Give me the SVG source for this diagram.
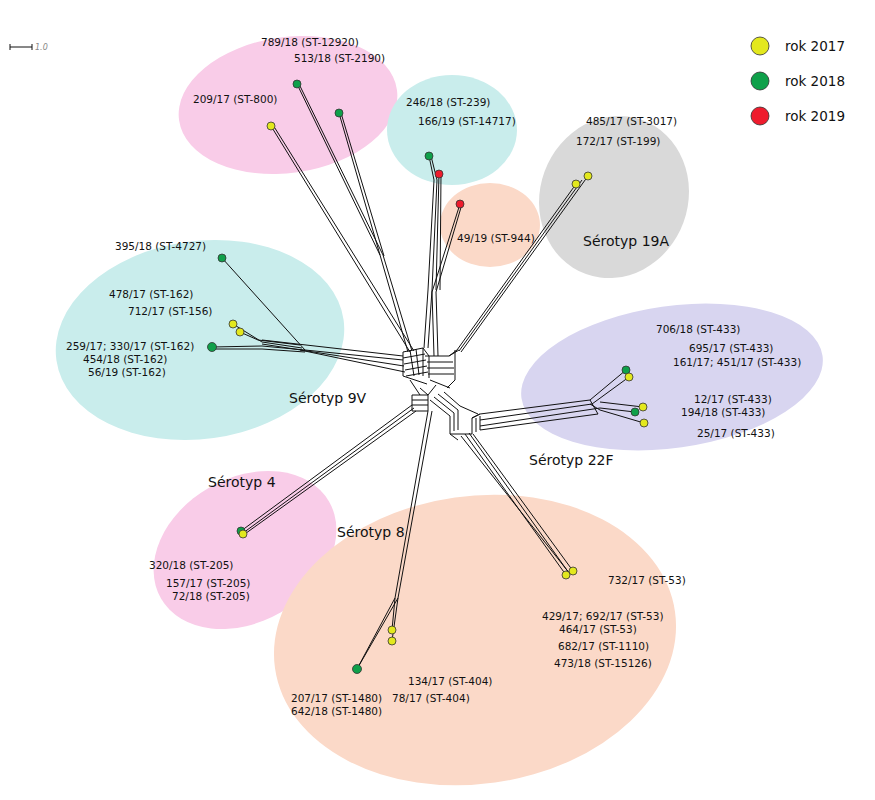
<svg xmlns="http://www.w3.org/2000/svg" width="875" height="800" viewBox="0 0 875 800">
<style>
.t{font-family:"DejaVu Sans",sans-serif;font-size:10.5px;fill:#111}
.s{font-family:"DejaVu Sans",sans-serif;font-size:14px;fill:#111}
.l{font-family:"DejaVu Sans",sans-serif;font-size:13.5px;fill:#111}
.e{stroke:#111;stroke-width:1;fill:none}
.y{fill:#e3e81e;stroke:#333;stroke-width:.8}
.g{fill:#0fa04a;stroke:#333;stroke-width:.8}
.r{fill:#ee1c2d;stroke:#333;stroke-width:.8}
</style>
<rect width="875" height="800" fill="#fff"/>
<g id="regions">
<ellipse cx="288" cy="105" rx="110" ry="68" transform="rotate(-8 288 105)" fill="#f9cce8"/>
<ellipse cx="452" cy="130" rx="65" ry="55" fill="#c9edec"/>
<ellipse cx="614" cy="197" rx="74" ry="82" transform="rotate(20 614 197)" fill="#d9d9d9"/>
<ellipse cx="490" cy="225" rx="50" ry="42" fill="#fbd9c8"/>
<ellipse cx="200" cy="340" rx="145" ry="99" transform="rotate(-8 200 340)" fill="#c9edec"/>
<ellipse cx="672" cy="377" rx="152" ry="71" transform="rotate(-8 672 377)" fill="#d8d5f0"/>
<ellipse cx="245" cy="550" rx="97" ry="72" transform="rotate(-30 245 550)" fill="#f9cce8"/>
<ellipse cx="475" cy="640" rx="202" ry="144" transform="rotate(-8 475 640)" fill="#fbd9c8"/>
</g>
<g id="connectors" class="e">
<path d="M10 47h22M10 44v6M32 44v6"/>
<!-- center web -->
<path d="M403 352 l20 -4 6 8 v22 M403 358 l22 -4 M404 364 l22 -4 M405 370 l22 -4 M406 376 l22 -4 M410 350 l4 26 M416 349 l3 26 M423 348 v28 M403 352 v24 l24 8"/>
<path d="M425 356 h24 l10 -6 M427 362 h26 M427 368 h27 M428 374 h26 M449 356 l8 -6 M455 350 v30 l-8 8 M430 380 l20 8"/>
<path d="M412 395 h16 v16 h-16 z M412 400 h16 M412 405 h16 M420 388 l8 7 M410 380 l10 15 M428 395 l8 -10"/>
<path d="M430 400 l20 16 M434 397 l20 16 M438 394 l20 16 M444 392 l16 14 M450 416 v18 h22 M454 413 v18 M458 410 v20 M472 434 v-16 l8 -4 M476 432 v-14 M480 430 v-14 M472 418 l8 -4 M450 434 l8 6 M460 406 l18 8"/>
<!-- top pink -->
<path d="M271 126 L410 352 M273 125 L414 351"/>
<path d="M297 84 L380 255 L408 352 M299 84 L383 255 L412 351"/>
<path d="M339 113 L380 255 M341 113 L384 256"/>
<!-- top cyan -->
<path d="M429 156 L434 180 L428 290 L424 348 M431 156 L437 180 L432 290 L428 348"/>
<path d="M439 174 L436 290 M441 174 L440 290"/>
<path d="M460 204 L432 292 L434 356 M462 204 L436 292 L438 356"/>
<!-- 19A -->
<path d="M576 184 L457 350 M588 176 L461 352 M582 180 L459 351"/>
<!-- 9V -->
<path d="M222 258 L305 350 L403 360"/>
<path d="M212 347 L262 346 L305 350 M212 349 L262 349 L305 352 M233 324 L262 342 L302 348 M240 332 L258 340 L300 345 M262 340 L403 356 M262 344 L404 366 M300 350 L405 372"/>
<!-- 22F -->
<path d="M626 370 L590 400 L480 414 M629 377 L592 404 L480 420 M643 407 L600 402 M635 412 L600 408 L480 426 M644 423 L600 410 L590 404 M590 400 L598 414 L480 430"/>
<!-- serotyp 4 -->
<path d="M241 531 L412 405 M243 533 L414 408 M242 536 L416 411"/>
<!-- serotyp 8 -->
<path d="M566 575 L465 434 M569 573 L469 433 M573 571 L473 434 M570 574 L461 436"/>
<path d="M357 669 L395 598 L392 630 M357 669 L398 598 L392 641 M395 598 L428 411 M398 598 L432 411"/>
</g>
<g id="dots">
<circle class="y" cx="271" cy="126" r="4"/><circle class="g" cx="297" cy="84" r="4"/><circle class="g" cx="339" cy="113" r="4"/>
<circle class="g" cx="429" cy="156" r="4"/><circle class="r" cx="439" cy="174" r="4"/><circle class="r" cx="460" cy="204" r="4"/>
<circle class="y" cx="576" cy="184" r="4"/><circle class="y" cx="588" cy="176" r="4"/>
<circle class="g" cx="222" cy="258" r="4"/><circle class="y" cx="233" cy="324" r="4"/><circle class="y" cx="240" cy="332" r="4"/><circle class="g" cx="212" cy="347" r="4.5"/>
<circle class="g" cx="626" cy="370" r="4"/><circle class="y" cx="629" cy="377" r="4"/><circle class="y" cx="643" cy="407" r="4"/><circle class="g" cx="635" cy="412" r="4"/><circle class="y" cx="644" cy="423" r="4"/>
<circle class="g" cx="241" cy="531" r="4"/><circle class="y" cx="243" cy="534" r="4"/>
<circle class="y" cx="566" cy="575" r="4"/><circle class="y" cx="573" cy="571" r="4"/>
<circle class="y" cx="392" cy="630" r="4"/><circle class="y" cx="392" cy="641" r="4"/><circle class="g" cx="357" cy="669" r="4.5"/>
</g>
<g id="legend">
<circle class="y" cx="760" cy="46" r="9"/><text class="l" x="785" y="51">rok 2017</text>
<circle class="g" cx="760" cy="81" r="9"/><text class="l" x="785" y="86">rok 2018</text>
<circle class="r" cx="760" cy="116" r="9"/><text class="l" x="785" y="121">rok 2019</text>
</g>
<g id="labels">
<text x="35" y="50" style="font-family:'DejaVu Sans',sans-serif;font-size:8px;font-style:italic;fill:#888">1.0</text>
<text class="t" x="261" y="46">789/18 (ST-12920)</text>
<text class="t" x="294" y="62">513/18 (ST-2190)</text>
<text class="t" x="193" y="103">209/17 (ST-800)</text>
<text class="t" x="406" y="106">246/18 (ST-239)</text>
<text class="t" x="418" y="125">166/19 (ST-14717)</text>
<text class="t" x="586" y="125">485/17 (ST-3017)</text>
<text class="t" x="576" y="145">172/17 (ST-199)</text>
<text class="t" x="457" y="242">49/19 (ST-944)</text>
<text class="s" x="583" y="246">Sérotyp 19A</text>
<text class="t" x="115" y="250">395/18 (ST-4727)</text>
<text class="t" x="109" y="298">478/17 (ST-162)</text>
<text class="t" x="128" y="315">712/17 (ST-156)</text>
<text class="t" x="66" y="350">259/17; 330/17 (ST-162)</text>
<text class="t" x="83" y="363">454/18 (ST-162)</text>
<text class="t" x="88" y="376">56/19 (ST-162)</text>
<text class="s" x="289" y="403">Sérotyp 9V</text>
<text class="t" x="656" y="333">706/18 (ST-433)</text>
<text class="t" x="689" y="352">695/17 (ST-433)</text>
<text class="t" x="673" y="366">161/17; 451/17 (ST-433)</text>
<text class="t" x="694" y="403">12/17 (ST-433)</text>
<text class="t" x="681" y="416">194/18 (ST-433)</text>
<text class="t" x="697" y="437">25/17 (ST-433)</text>
<text class="s" x="529" y="465">Sérotyp 22F</text>
<text class="s" x="208" y="487">Sérotyp 4</text>
<text class="s" x="337" y="537">Sérotyp 8</text>
<text class="t" x="149" y="569">320/18 (ST-205)</text>
<text class="t" x="166" y="587">157/17 (ST-205)</text>
<text class="t" x="172" y="600">72/18 (ST-205)</text>
<text class="t" x="608" y="584">732/17 (ST-53)</text>
<text class="t" x="542" y="620">429/17; 692/17 (ST-53)</text>
<text class="t" x="559" y="633">464/17 (ST-53)</text>
<text class="t" x="558" y="650">682/17 (ST-1110)</text>
<text class="t" x="554" y="667">473/18 (ST-15126)</text>
<text class="t" x="408" y="685">134/17 (ST-404)</text>
<text class="t" x="392" y="702">78/17 (ST-404)</text>
<text class="t" x="291" y="702">207/17 (ST-1480)</text>
<text class="t" x="291" y="715">642/18 (ST-1480)</text>
</g>
</svg>
